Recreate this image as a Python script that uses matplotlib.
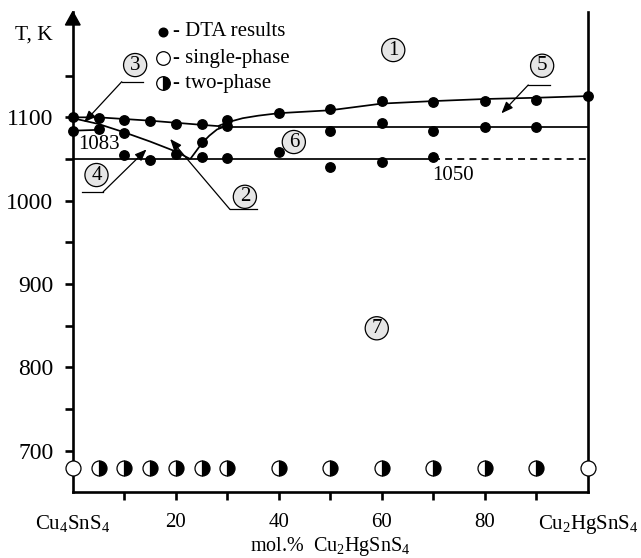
import matplotlib
matplotlib.use("Agg")
import matplotlib.pyplot as plt
from matplotlib.patches import Polygon

plt.rcParams["font.family"] = ["Liberation Serif", "DejaVu Serif"]
plt.rcParams["mathtext.fontset"] = "custom"
plt.rcParams["mathtext.rm"] = "Liberation Serif"
plt.rcParams["mathtext.default"] = "regular"

# DTA thermal effects (mol.% Cu2HgSnS4, K)
dta_x = [0, 0, 5, 5, 10, 10, 10, 15, 15, 20, 20, 25, 25, 25, 30, 30, 30,
         40, 40, 50, 50, 50, 60, 60, 60, 70, 70, 70, 80, 80, 90, 90, 100]
dta_T = [1100, 1084, 1099, 1086, 1097, 1081, 1055, 1096, 1049, 1092, 1056,
         1092, 1071, 1053, 1097, 1090, 1051, 1105, 1058, 1110, 1084, 1041,
         1120, 1093, 1046, 1118, 1084, 1052, 1120, 1089, 1121, 1089, 1125]

# phase analysis of annealed samples
single_x = [0, 100]
two_x = [5, 10, 15, 20, 25, 30, 40, 50, 60, 70, 80, 90]
xrd_T = 679

# phase boundaries
liq_left_x = [0, 5, 10, 15, 20, 25, 28.2]
liq_left_T = [1100, 1100, 1098, 1096, 1093.5, 1091, 1089.5]
liq_right_x = [28.2, 30, 33, 36, 40, 50, 60, 70, 80, 90, 100]
liq_right_T = [1089.5, 1094, 1099, 1102, 1105, 1108.5, 1116.5, 1119.5, 1122, 1123.5, 1125.5]
sol_x = [0, 5, 10, 15, 20, 22.8]
sol_T = [1099, 1092, 1082, 1071, 1059, 1050]
rise_x = [22.8, 24, 25, 26.5, 28, 29.5]
rise_T = [1050, 1060, 1068.5, 1078, 1085.5, 1089]
perit_x = [28.2, 100]
perit_T = [1089, 1089]
eut_x = [0, 70]
eut_T = [1050, 1050]
eut_dash_x = [70, 100]
short_x = [0, 5]
short_T = [1084, 1085]

fig = plt.figure(figsize=(6.41, 5.58), dpi=100)
ax = fig.add_axes([72.8 / 641, 1 - 491.7 / 558, (588 - 72.8) / 641, 480 / 558])
ax.set_xlim(0, 100)
ax.set_ylim(651, 1226.7)

lw = 1.25
for xs, ts in [(liq_left_x, liq_left_T), (liq_right_x, liq_right_T), (sol_x, sol_T),
               (rise_x, rise_T), (perit_x, perit_T), (eut_x, eut_T), (short_x, short_T)]:
    ax.plot(xs, ts, color="black", lw=lw, solid_capstyle="butt")
ax.plot(eut_dash_x, eut_T, color="black", lw=lw, ls=(0, (4, 3)))

ax.plot(dta_x, dta_T, "o", color="black", ms=6.8, clip_on=False, zorder=5)
ax.plot(single_x, [xrd_T] * len(single_x), "o", mfc="white", mec="black",
        mew=0.9, ms=10.8, clip_on=False, zorder=6)
ax.plot(two_x, [xrd_T] * len(two_x), "o", fillstyle="right", mfc="black",
        mfcalt="white", mec="black", mew=0.9, ms=10.8, clip_on=False, zorder=6)

# legend drawn by hand
ax.plot(17.6, 1202.7, "o", color="black", ms=6.2, clip_on=False)
ax.plot(17.6, 1170.8, "o", mfc="white", mec="black", mew=0.9, ms=9.8, clip_on=False)
ax.plot(17.6, 1140.8, "o", fillstyle="right", mfc="black", mfcalt="white",
        mec="black", mew=0.9, ms=9.8, clip_on=False)
for t, label in [(1202.7, "- DTA results"), (1170.8, "- single-phase"),
                 (1140.8, "- two-phase")]:
    ax.text(19.4, t, label, fontsize=15, va="center", ha="left")

# region numbers
circ = dict(boxstyle="circle,pad=0.1", fc="#e6e6e6", ec="black", lw=0.9)
for num, x, t in [("1", 62.2, 1180.7), ("2", 33.4, 1004.7), ("3", 12.1, 1162.7),
                  ("4", 4.6, 1030.8), ("5", 91.1, 1161.9), ("6", 42.9, 1070.4),
                  ("7", 59.0, 847.0)]:
    ax.text(x, t, num, fontsize=15, ha="center", va="center", bbox=circ, zorder=7)

# leaders: shoulder line + arrow
leaders = [
    ((9.5, 13.7), 1142.7, (9.5, 1142.7), (2.2, 1094)),
    ((1.7, 5.9), 1010.7, (5.9, 1010.7), (14.3, 1061.5)),
    ((30.5, 35.7), 989.6, (30.5, 989.6), (18.9, 1074)),
    ((88.4, 92.6), 1138.8, (88.4, 1138.8), (83.2, 1104.8)),
]
for (x0, x1), t, start, tip in leaders:
    ax.plot([x0, x1], [t, t], color="black", lw=0.9, clip_on=False)
    ax.annotate("", xy=tip, xytext=start,
                arrowprops=dict(arrowstyle="-|>,head_length=0.5,head_width=0.2",
                                color="black", lw=0.9, mutation_scale=14,
                                shrinkA=0, shrinkB=0))

ax.text(5.0, 1067, "1083", fontsize=15, ha="center", va="center")
ax.text(73.8, 1030.7, "1050", fontsize=15, ha="center", va="center")

# axes styling
for side in ["left", "right", "bottom"]:
    ax.spines[side].set_linewidth(1.9)
ax.spines["top"].set_visible(False)
ax.set_yticks([700, 800, 900, 1000, 1100])
ax.set_yticks([750, 850, 950, 1050, 1150], minor=True)
ax.tick_params(axis="y", which="both", direction="out", length=5.5, width=1.9,
               labelsize=17, pad=8.5)
ax.set_xticks(range(0, 101, 10))
ax.set_xticklabels([r"Cu$_4$SnS$_4$", "", "20", "", "40", "", "60", "", "80", "",
                    r"Cu$_2$HgSnS$_4$"])
ax.tick_params(axis="x", direction="out", length=5.5, width=1.9, labelsize=15, pad=10)
xt = ax.xaxis.get_major_ticks()
xt[0].tick1line.set_visible(False)
xt[-1].tick1line.set_visible(False)

# arrow head on the temperature axis
hw = 7.35 / 515.2
hh = 13.3 / 480
ax.add_patch(Polygon([(0, 1.0), (-hw, 1 - hh), (hw, 1 - hh)], closed=True,
                     transform=ax.transAxes, color="black", clip_on=False))

fig.text(34 / 641, 1 - 35 / 558, "T, K", fontsize=15.5, ha="center", va="center")
fig.text(330 / 641, 1 - 551 / 558, r"mol.%  Cu$_2$HgSnS$_4$", fontsize=14.5,
         ha="center", va="baseline")

fig.savefig("out.png", dpi=100)
